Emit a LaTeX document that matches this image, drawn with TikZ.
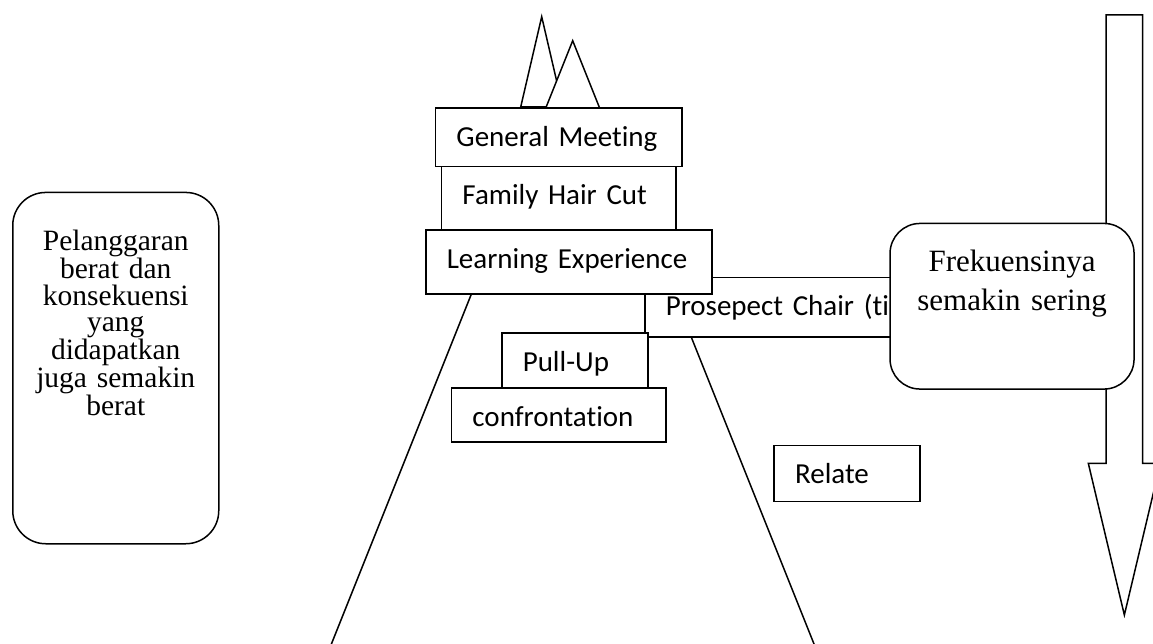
\documentclass[tikz,border=0pt]{standalone}
\usepackage{fontspec}
\setmainfont{Liberation Serif}
\newfontfamily\boxfont[Ligatures=NoCommon]{Carlito}
\begin{document}
\begin{tikzpicture}[x=1pt,y=-1pt,line width=1.5pt,
  stepbox/.style={draw,fill=white,rectangle,anchor=north west,
    inner xsep=21pt,inner ysep=0pt,align=left,text height=38pt,
    font=\boxfont\fontsize{29}{35}\selectfont},
  notebox/.style={draw,fill=white,rectangle,anchor=north west,
    inner sep=0pt,align=center}]
\useasboundingbox (0,0) rectangle (1153,644);

% two mountain peaks
\coordinate (pkA) at (541.7,16.7);
\coordinate (pkAl) at (520.7,107);
\coordinate (pkAr) at (562.7,107);
\filldraw[fill=white] (pkAl) -- (pkA) -- (pkAr) -- cycle;
\coordinate (apex) at (572.7,40.7);
\coordinate (footL) at (325,660);
\coordinate (footR) at (820.4,660);
\fill[white] (footL) -- (apex) -- (footR) -- cycle;
\draw (footL) -- (apex) -- (footR);

% downward arrow on the right
\coordinate (arTL) at (1106,15);
\coordinate (arTR) at (1142.7,15);
\coordinate (arNL) at (1106,463.3);
\coordinate (arNR) at (1142.7,463.3);
\coordinate (arHL) at (1088.3,463.3);
\coordinate (arHR) at (1160.4,463.3);
\coordinate (arTip) at (1124.35,615);
\filldraw[fill=white,line join=miter] (arTL) -- (arTR) -- (arNR) -- (arHR) -- (arTip)
  -- (arHL) -- (arNL) -- cycle;

% stacked steps
\node[stepbox,text width=318pt,text depth=21.3pt] (chair) at (644,276.7) {Prosepect Chair (ti};
\node[stepbox,text width=244pt,text depth=26pt] (learn) at (425,229.3) {Learning Experience};
\node[stepbox,text width=104pt,text depth=18pt] (pull) at (501,332.3) {Pull-Up};
\node[stepbox,text width=172.6pt,text depth=16pt] (conf) at (450.7,387.3) {confrontation};
\node[stepbox,text width=192.6pt,text depth=25.6pt] (hair) at (440.7,165.7) {Family Hair Cut};
\node[stepbox,text width=204.3pt,text depth=20.4pt] (meet) at (434.7,107.3) {General Meeting};
\node[stepbox,text width=103.7pt,text depth=18pt] (relate) at (773.3,444.7) {Relate};

% side notes
\node[notebox,rounded corners=30pt,text width=244pt,text height=48.3pt,text depth=117.3pt,
  font=\fontsize{31}{39}\selectfont] (freq) at (889.3,222.7)
  {Frekuensinya\\semakin sering};
\node[notebox,rounded corners=33pt,text width=206pt,text height=58.3pt,text depth=293pt,
  font=\fontsize{29.5}{26.7}\selectfont] (weight) at (12,191.7)
  {Pelanggaran\\berat dan\\konsekuensi\\yang\\didapatkan\\juga semakin\\berat};
\end{tikzpicture}
\end{document}
